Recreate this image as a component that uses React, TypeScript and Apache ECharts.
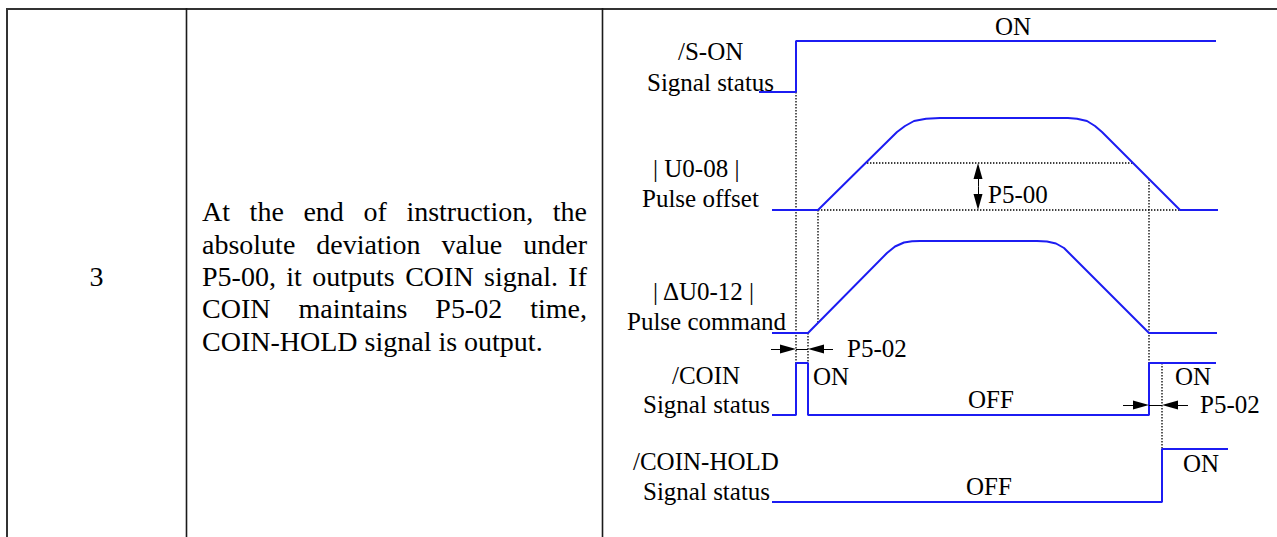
import React, { useEffect, useRef } from "react";
import * as echarts from "echarts";

const FONT = "'Liberation Serif', 'Times New Roman', Times, serif";
const BLUE = "#1c1cf2";

// ---- waveform data: [time, level] ----
const sOnWave = [[759, 92], [796, 92], [796, 41], [1216, 41]];
const pulseOffsetWave = [
  [772, 210], [818, 210], [897, 132], [905, 126], [914, 121], [926, 118.7], [940, 118],
  [1068, 118], [1077, 118.7], [1087, 121], [1095, 126], [1102, 132], [1180, 210], [1218, 210],
];
const pulseCommandWave = [
  [772, 333], [808, 333], [887, 253], [895, 246.5], [904, 242.5], [912, 241.2], [920, 241],
  [1037, 241], [1047, 241.5], [1056, 243.5], [1064, 248], [1072, 256], [1149, 333], [1217, 333],
];
const coinWave = [[772, 415], [796, 415], [796, 363], [808, 363], [808, 415], [1149, 415], [1149, 363], [1216, 363]];
const coinHoldWave = [[772, 502], [1162, 502], [1162, 449], [1228, 449]];

// dotted guide segments
const guideSegments = [
  [[796, 92], [796, 363]],
  [[818, 210], [818, 323]],
  [[808, 333], [808, 363]],
  [[867, 163], [1133, 163]],
  [[818, 210], [1180, 210]],
  [[1149, 179], [1149, 363]],
  [[1162, 363], [1162, 449]],
];

// arrows: [tailX, tailY, tipX, tipY]
const arrowList = [
  [771, 349, 796, 349],
  [833, 349, 808, 349],
  [1123, 405, 1149, 405],
  [1188, 405, 1162, 405],
  [978, 186.5, 978, 163],
  [978, 186.5, 978, 210],
];
const arrowBars = [
  [[796, 349], [808, 349]],
  [[1149, 405], [1162, 405]],
];

// ---- texts ----
const diagramTexts = ["ON", "/S-ON", "Signal status", "| U0-08 |", "Pulse offset", "P5-00", "| ΔU0-12 |",
  "Pulse command", "P5-02", "/COIN", "ON", "Signal status", "OFF", "ON", "P5-02", "/COIN-HOLD",
  "Signal status", "OFF", "ON"];
const rowNumber = "3";
const descriptionLines = [
  "At the end of instruction, the",
  "absolute deviation value under",
  "P5-00, it outputs COIN signal. If",
  "COIN maintains P5-02 time,",
  "COIN-HOLD signal is output.",
];

// layout (pixel positions of texts: left x, baseline y)
const diagramTextPos = [
  [995, 35], [678, 60], [647, 91], [653, 177], [642, 207], [988, 203], [653, 300],
  [627, 330], [847, 357], [672, 384], [813, 385], [643, 413], [968, 408], [1175, 385], [1200, 413], [633, 470],
  [643, 500], [966, 495], [1183, 472],
];
const DIAG_FS = 25;
const DESC_FS = 28;
const descLeft = 202;
const descRight = 587;
const descBaselines = [221, 253.5, 286, 318, 350.5];

function textStyle(text: string, size: number, align = "left") {
  return {
    text,
    font: `${size}px ${FONT}`,
    fill: "#000",
    textAlign: align,
    textVerticalAlign: "middle",
    align,
    verticalAlign: "middle",
  };
}

function buildDescription() {
  const els: any[] = [];
  const ctx = document.createElement("canvas").getContext("2d")!;
  ctx.font = `${DESC_FS}px ${FONT}`;
  const off = DESC_FS * 0.3375;
  descriptionLines.forEach((line, i) => {
    const y = descBaselines[i] - off;
    const last = i === descriptionLines.length - 1;
    if (last) {
      els.push({ type: "text", x: descLeft, y, silent: true, style: textStyle(line, DESC_FS) });
      return;
    }
    const words = line.split(" ");
    const widths = words.map((w) => ctx.measureText(w).width);
    const total = widths.reduce((a, b) => a + b, 0);
    const gap = (descRight - descLeft - total) / (words.length - 1);
    let x = descLeft;
    words.forEach((w, k) => {
      els.push({ type: "text", x, y, silent: true, style: textStyle(w, DESC_FS) });
      x += widths[k] + gap;
    });
  });
  return els;
}

export default function App() {
  const ref = useRef<HTMLDivElement>(null);
  useEffect(() => {
    if (!ref.current) return;
    const chart = echarts.init(ref.current, null, { renderer: "svg" });

    const waveSeries = [sOnWave, pulseOffsetWave, pulseCommandWave, coinWave, coinHoldWave].map((w) => ({
      type: "line",
      data: w,
      symbol: "none",
      silent: true,
      lineStyle: { color: BLUE, width: 2 },
    }));
    const guideSeries = guideSegments.map((g) => ({
      type: "line",
      data: g,
      symbol: "none",
      silent: true,
      lineStyle: { color: "#000", width: 1.3, type: [1.4, 1.6] },
    }));
    const AL = 16;
    const arrowData: any[] = arrowList.map(([tx, ty, px, py]) => {
      const dx = px - tx, dy = py - ty;
      const len = Math.hypot(dx, dy);
      const ex = px - (dx / len) * (AL / 2);
      const ey = py - (dy / len) * (AL / 2);
      return [
        { coord: [tx, ty], symbol: "none" },
        { coord: [ex, ey], symbol: "triangle", symbolSize: [9, AL] },
      ];
    });
    arrowBars.forEach((b) => arrowData.push([{ coord: b[0], symbol: "none" }, { coord: b[1], symbol: "none" }]));

    const texts = diagramTexts.map((t, i) => ({
      type: "text",
      x: diagramTextPos[i][0],
      y: diagramTextPos[i][1] - DIAG_FS * 0.3375,
      silent: true,
      style: textStyle(t, DIAG_FS),
    }));

    const tableLines = [
      { type: "line", shape: { x1: 6, y1: 9, x2: 1277, y2: 9 }, style: { stroke: "#333", lineWidth: 2 } },
      { type: "line", shape: { x1: 7, y1: 8, x2: 7, y2: 537 }, style: { stroke: "#333", lineWidth: 2 } },
      { type: "line", shape: { x1: 186.5, y1: 8, x2: 186.5, y2: 537 }, style: { stroke: "#1a1a1a", lineWidth: 1.6 } },
      { type: "line", shape: { x1: 602.5, y1: 8, x2: 602.5, y2: 537 }, style: { stroke: "#1a1a1a", lineWidth: 1.6 } },
    ].map((l) => ({ ...l, silent: true }));

    const option: any = {
      animation: false,
      grid: { left: 0, top: 0, right: 0, bottom: 0 },
      xAxis: { type: "value", min: 0, max: 1277, show: false },
      yAxis: { type: "value", min: 0, max: 537, inverse: true, show: false },
      series: [
        ...guideSeries,
        ...waveSeries,
        {
          type: "line",
          data: [],
          silent: true,
          markLine: {
            silent: true,
            animation: false,
            symbol: ["none", "none"],
            label: { show: false },
            lineStyle: { color: "#000", width: 1, type: "solid" },
            emphasis: { disabled: true },
            data: arrowData,
          },
        },
      ],
      graphic: [
        ...tableLines,
        {
          type: "text", x: 96.5, y: descBaselines[2] - DESC_FS * 0.3375, silent: true,
          style: textStyle(rowNumber, DESC_FS, "center"),
        },
        ...buildDescription(),
        ...texts,
      ],
    };
    chart.setOption(option);
    return () => chart.dispose();
  }, []);
  return (
    <div
      ref={ref}
      style={{ position: "absolute", left: 0, top: 0, width: 1277, height: 537, background: "#fff" }}
    />
  );
}
